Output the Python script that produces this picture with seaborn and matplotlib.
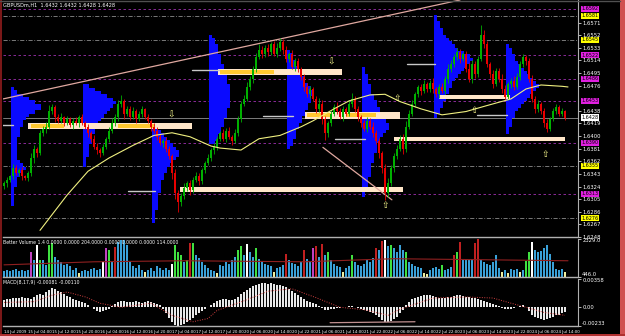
import numpy as np
import pandas as pd
import matplotlib
matplotlib.use("Agg")
import matplotlib.pyplot as plt
import matplotlib.transforms as mtrans
import seaborn as sns

# ---------------- data (prices in pips above 1.6000) ----------------
first_open = 325
close_pips = [
    329, 334, 340, 352, 344, 349, 340, 337, 344, 367,
    381, 374, 404, 411, 414, 438, 444, 429, 423, 429,
    420, 426, 417, 423, 419, 429, 420, 414, 404, 396,
    384, 379, 374, 384, 396, 408, 419, 429, 449, 453,
    434, 441, 429, 438, 426, 434, 441, 429, 423, 414,
    408, 399, 389, 393, 381, 370, 344, 314, 300, 310,
    322, 329, 319, 334, 340, 332, 349, 359, 367, 379,
    384, 396, 404, 396, 408, 399, 393, 404, 426, 449,
    456, 474, 486, 501, 519, 530, 523, 533, 527, 538,
    523, 533, 542, 530, 516, 523, 504, 513, 501, 489,
    474, 463, 471, 456, 441, 449, 426, 404, 419, 434,
    444, 438, 429, 441, 434, 449, 456, 441, 429, 419,
    411, 423, 414, 404, 393, 374, 352, 314, 329, 352,
    370, 381, 396, 381, 414, 434, 449, 463, 474, 468,
    478, 471, 480, 471, 463, 474, 468, 486, 501, 508,
    519, 527, 516, 523, 501, 486, 508, 493, 516, 553,
    538, 508, 493, 478, 498, 486, 471, 459, 478, 483,
    474, 489, 508, 519, 513, 486, 456, 441, 449, 438,
    419, 411, 426, 438, 444, 434, 438, 428,
]
high_ext = [
    3, 5, 2, 6, 4, 3, 5, 2, 4, 8,
    6, 3, 5, 4, 7, 9, 5, 3, 4, 6,
    2, 5, 3, 4, 6, 3, 5, 2, 4, 3,
    6, 5, 3, 4, 2, 5, 8, 4, 6, 9,
    3, 5, 4, 6, 3, 4, 5, 2, 4, 3,
    5, 6, 4, 3, 5, 4, 3, 6, 5, 4,
    8, 3, 5, 4, 6, 5, 3, 4, 6, 3,
    5, 4, 3, 6, 4, 5, 3, 7, 5, 4,
    6, 8, 5, 4, 6, 9, 5, 4, 6, 3,
    5, 7, 6, 4, 5, 3, 6, 4, 5, 3,
    4, 6, 5, 3, 4, 8, 5, 4, 3, 6,
    5, 7, 4, 5, 3, 6, 9, 5, 4, 3,
    5, 6, 4, 7, 5, 4, 3, 6, 8, 5,
    4, 6, 5, 7, 9, 6, 5, 4, 3, 5,
    6, 4, 5, 7, 3, 4, 6, 5, 8, 7,
    5, 6, 4, 3, 5, 9, 6, 5, 4, 14,
    7, 5, 3, 6, 4, 5, 7, 6, 4, 5,
    8, 6, 5, 4, 3, 5, 6, 4, 5, 3,
    4, 6, 3, 5, 4, 3, 4, 2,
]
low_ext = [
    4, 6, 3, 5, 2, 4, 6, 3, 5, 4,
    7, 5, 3, 4, 6, 4, 5, 8, 4, 3,
    5, 3, 4, 6, 3, 5, 4, 3, 6, 5,
    4, 6, 5, 3, 4, 5, 3, 4, 6, 5,
    8, 4, 5, 3, 6, 4, 5, 3, 4, 6,
    4, 5, 3, 6, 5, 4, 8, 9, 15, 6,
    5, 4, 7, 5, 3, 6, 4, 5, 3, 4,
    6, 5, 4, 3, 5, 4, 6, 3, 4, 5,
    4, 3, 5, 6, 4, 3, 5, 4, 6, 5,
    3, 4, 5, 6, 4, 5, 3, 6, 4, 5,
    6, 4, 5, 3, 6, 4, 8, 10, 5, 4,
    3, 5, 4, 6, 4, 3, 5, 4, 6, 5,
    4, 5, 3, 6, 5, 7, 8, 10, 5, 4,
    6, 5, 4, 8, 5, 4, 3, 5, 4, 6,
    3, 5, 4, 6, 4, 5, 3, 4, 6, 5,
    4, 5, 6, 3, 5, 4, 6, 5, 4, 3,
    5, 4, 6, 5, 3, 4, 6, 5, 4, 5,
    4, 3, 5, 4, 6, 5, 4, 6, 5, 4,
    6, 5, 4, 3, 5, 4, 3, 4,
]
ma_bar = [12, 21, 28, 35, 43, 50, 56, 62, 69, 72, 79, 85, 92, 99, 103, 110, 115, 122, 127,
          132, 139, 146, 154, 161, 169, 174, 179, 186, 188]
ma_pips = [258, 311, 347, 367, 386, 401, 405, 399, 385, 382, 379, 396, 401, 414, 423, 441, 453,
           462, 463, 452, 441, 432, 437, 446, 456, 471, 477, 475, 474]

volume = [
    760, 800, 740, 780, 820, 760, 800, 740, 780, 1680,
    1300, 2030, 1290, 1290, 1040, 2030, 2130, 1440, 1290, 1190,
    1040, 1090, 990, 790, 890, 640, 740, 790, 740, 840,
    890, 790, 840, 1190, 1880, 1780, 1190, 1930, 2180, 2280,
    2280, 2030, 1190, 990, 890, 1040, 790, 690, 790, 890,
    740, 990, 890, 790, 890, 790, 1090, 2030, 1680, 1540,
    1190, 1290, 2130, 2130, 1540, 1390, 1190, 1040, 890, 790,
    740, 640, 1040, 990, 1190, 1090, 1290, 1440, 1780, 1980,
    1540, 2080, 1690, 1440, 1880, 1340, 1190, 1090, 1040, 990,
    690, 890, 940, 1040, 1580, 1290, 1140, 1090, 990, 1190,
    1780, 1340, 1240, 1880, 1980, 1440, 2080, 1540, 1680, 1290,
    1090, 990, 940, 690, 890, 990, 1540, 1190, 1040, 990,
    1090, 1290, 1190, 1390, 1880, 1780, 2230, 2280, 1980, 2030,
    1880, 1680, 2030, 1780, 1680, 1190, 1090, 990, 940, 890,
    640, 590, 790, 890, 940, 840, 1040, 790, 840, 940,
    1540, 1680, 2180, 1340, 1290, 1290, 1340, 2130, 2330, 1290,
    1190, 1090, 1040, 1190, 1540, 890, 690, 790, 640, 840,
    790, 840, 690, 790, 1240, 1680, 2180, 1780, 1680, 1740,
    1880, 2030, 1590, 1190, 840, 790, 840, 690,
]
vol_class = ("bbbbbbbbbm" "bwgbbggbbb" "bbbbbybbbb" "bbbwmgbrbb" "bbbbbbbybb"
             "bbbbbbwggg" "bgrgbbbbbb" "bybbbbbbgg" "bwbbgbbbbb" "ybbbrbbbbb"
             "rbbmrbrbgb" "bbbybbgbbb" "bbbbrbrwbg" "bbbbgbbbbb" "yybbbbgbbb"
             "rgrbbbbrrb" "bbbbbbybyb" "bbybggwbbb" "bbbbbbby")
vol_ma_bar = [0, 30, 60, 100, 130, 160, 188]
vol_ma = [1040, 1190, 1240, 1190, 1340, 1290, 1240]

macd_hist = [
    90, 100, 100, 115, 115, 115, 128, 115, 115, 100,
    128, 154, 166, 154, 192, 218, 243, 230, 205, 192,
    166, 140, 128, 100, 90, 77, 64, 51, 26, 0,
    -26, -51, -64, -51, -38, -26, 13, 38, 64, 77,
    77, 64, 64, 64, 77, 64, 51, 64, 77, 64,
    51, 38, 26, -26, -77, -128, -179, -218, -230, -218,
    -205, -179, -154, -128, -102, -77, -51, -26, 0, 26,
    51, 77, 90, 102, 102, 90, 90, 102, 128, 166,
    192, 218, 243, 269, 282, 294, 307, 307, 294, 307,
    294, 282, 282, 269, 256, 230, 205, 179, 154, 128,
    102, 77, 64, 51, 38, 13, -13, -38, -38, -26,
    -26, -13, -13, 0, 0, 13, 13, 0, -13, -26,
    -38, -51, -64, -77, -90, -115, -154, -179, -179, -166,
    -141, -115, -77, -38, 26, 64, 102, 115, 128, 141,
    154, 154, 154, 141, 128, 115, 115, 115, 128, 128,
    141, 154, 154, 141, 128, 128, 115, 115, 102, 90,
    77, 64, 51, 38, 26, 13, -13, -26, -26, -26,
    -13, 0, 13, 26, 0, -51, -90, -115, -128, -141,
    -154, -141, -128, -115, -102, -90, -77, -64,
]
sig_bar = [0, 10, 16, 21, 27, 32, 39, 49, 56, 63, 68, 71, 80, 88, 96, 104, 112, 120, 128,
           132, 136, 143, 154, 163, 169, 174, 180, 187]
sig_val = [60, 70, 150, 190, 130, 50, 0, 50, -100, -180, -140, -40, 80, 200, 230, 120, 0, -30,
           -100, -25, 26, 115, 128, 115, 51, 0, -64, -100]

# volume-profile blocks: first bar, top price (pips), widths (bars) per 5-pip bin
profiles = [
    (3, 474, [1, 2, 4, 6, 8, 10, 10, 8, 6, 5, 4, 4, 3, 3, 3, 2, 2, 2, 2, 2, 2, 2, 3, 4, 5, 4, 3,
              2, 2, 2, 1, 1, 1, 1, 1, 1]),
    (27, 478, [2, 4, 6, 8, 10, 11, 10, 9, 8, 7, 6, 5, 5, 4, 4, 3, 3, 3, 2, 2, 2, 2, 1, 1, 1]),
    (50, 414, [2, 3, 4, 5, 6, 7, 8, 9, 9, 8, 7, 6, 5, 5, 4, 4, 3, 3, 3, 3, 2, 2, 2, 2, 2, 1, 1, 1, 1]),
    (69, 553, [1, 2, 2, 3, 3, 3, 4, 4, 4, 5, 5, 5, 6, 6, 6, 7, 7, 7, 7, 7, 7, 7, 6, 6, 6, 5, 5, 5, 4,
               4, 3, 3, 2]),
    (95, 530, [1, 2, 2, 3, 3, 4, 5, 5, 6, 6, 7, 8, 9, 9, 8, 8, 7, 7, 6, 6, 5, 5, 4, 4, 3, 3, 3, 2, 2, 1]),
    (120, 504, [1, 1, 2, 2, 2, 3, 3, 3, 4, 4, 5, 5, 6, 6, 7, 8, 8, 9, 9, 8, 7, 6, 6, 5, 5, 5, 4, 4, 4,
                3, 3, 3, 3, 2, 2, 2, 2, 1, 1]),
    (144, 583, [1, 1, 2, 2, 3, 3, 4, 5, 6, 7, 8, 10, 12, 13, 12, 11, 10, 9, 8, 7, 6, 6, 5, 5, 4, 4, 3,
                3, 2, 2, 1]),
    (168, 538, [1, 2, 2, 3, 3, 4, 5, 6, 7, 8, 9, 10, 11, 10, 9, 8, 7, 6, 5, 4, 3, 3, 2, 2, 2, 1, 1]),
]
# value-area zones: first bar, last bar, top pips, bottom pips
zones = [(8, 62.7, 420, 411), (71.3, 112.7, 501, 492), (100.3, 132, 437, 426),
         (58.7, 133, 323, 316), (145, 168.7, 462, 456), (130, 187, 398, 393)]
zone_core = [(9, 20, 420, 411), (38, 50, 420, 411), (72, 90, 501, 492),
             (101, 109, 437, 426), (114, 124, 437, 426)]
short_lines = [(-1.3, 3, 416), (41.3, 50.3, 317), (62.7, 72, 499), (86.3, 96.3, 431),
               (110.3, 120.3, 396), (134.3, 143.7, 508), (157.7, 167.7, 432)]
arrows_down = [(55.7, 431), (109, 511)]
arrows_up = [(127, 296), (156.7, 439), (180.3, 372), (131, 457)]
trend_lines = [((-0.3, 456), (152, 605)), ((106.3, 383), (129.3, 304))]
macd_trend = ((108.7, -192), (137, -180))

level_magenta = [592, 522, 486, 453, 390, 313]
level_yellow = [581, 545, 355, 276]
current_price = 428
price_ticks = [1.6571, 1.6552, 1.6533, 1.6514, 1.6495, 1.6476, 1.6457, 1.6438, 1.6419,
               1.6400, 1.6381, 1.6362, 1.6343, 1.6324, 1.6305, 1.6286, 1.6267, 1.6248]
time_labels = ["14 Jul 2009", "15 Jul 04:00", "15 Jul 12:00", "15 Jul 20:00", "16 Jul 04:00",
               "16 Jul 12:00", "16 Jul 20:00", "17 Jul 04:00", "17 Jul 12:00", "17 Jul 20:00",
               "20 Jul 06:00", "20 Jul 14:00", "20 Jul 22:00", "21 Jul 06:00", "21 Jul 14:00",
               "21 Jul 22:00", "22 Jul 06:00", "22 Jul 14:00", "22 Jul 22:00", "23 Jul 06:00",
               "23 Jul 14:00", "23 Jul 22:00", "24 Jul 06:00", "24 Jul 14:00"]
title = "GBPUSDm,H1  1.6432 1.6432 1.6428 1.6428"
vol_title = "Better Volume 1.4 0.0000 0.0000 204.0000 0.0000 0.0000 0.0000 114.0000"
macd_title = "MACD(8,17,9) -0.00081 -0.00110"

# ---------------- styling ----------------
sns.set_theme(style="dark", rc={"axes.facecolor": "black", "figure.facecolor": "black",
                                "axes.edgecolor": "#a0a0a0", "text.color": "white",
                                "xtick.color": "white", "ytick.color": "white"})
plt.rcParams["font.family"] = ["DejaVu Sans"]

W, H = 625, 336
fig = plt.figure(figsize=(W / 100, H / 100), dpi=100, facecolor="black")


def rect(x0, y0, x1, y1):
    return [x0 / W, 1 - y1 / H, (x1 - x0) / W, (y1 - y0) / H]


ax_p = fig.add_axes(rect(3, 0, 578, 237))
ax_v = fig.add_axes(rect(3, 238.5, 578, 277))
ax_m = fig.add_axes(rect(3, 278.5, 578, 326))


def P(v):
    return 1.6 + np.asarray(v, dtype=float) / 1e4


n = len(close_pips)
idx = np.arange(n)
closes = P(close_pips)
opens = np.r_[P(first_open), closes[:-1]]
highs = np.maximum(opens, closes) + np.asarray(high_ext) / 1e4
lows = np.minimum(opens, closes) - np.asarray(low_ext) / 1e4

XL = (-1 / 3, 574 / 3)
for ax in (ax_p, ax_v, ax_m):
    ax.set_facecolor("black")
    ax.set_xlim(*XL)
    for s in ax.spines.values():
        s.set_visible(False)
    ax.spines["bottom"].set_visible(True)
    ax.spines["bottom"].set_color("#b0b0b0")
    ax.spines["bottom"].set_linewidth(1.0)
    ax.spines["right"].set_visible(True)
    ax.spines["right"].set_color("#b0b0b0")
    ax.spines["right"].set_linewidth(0.8)
    ax.grid(False)
    ax.yaxis.tick_right()
    ax.tick_params(axis="y", length=2, width=0.5, pad=1, labelsize=3.8, colors="white")

# ---------- price panel ----------
ax_p.set_ylim(P(252), P(605))
bin_h = 5 / 1e4
for start, top, widths in profiles:
    ys = P(top) - bin_h * (np.arange(len(widths)) + 0.5)
    ax_p.barh(ys, widths, left=start - 0.5, height=bin_h, color="#0a0aff", linewidth=0, zorder=1)

for lv in level_magenta:
    ax_p.axhline(P(lv), color="#a030b0", lw=0.6, dashes=(3, 3), zorder=0.5)
for lv in level_yellow:
    ax_p.axhline(P(lv), color="#8c8c8c", lw=0.6, dashes=(5, 2, 1, 2), zorder=0.5)
ax_p.axhline(P(current_price), color="#909090", lw=0.6, zorder=0.6)

for x0, x1, t, b in zones:
    ax_p.fill_between([x0, x1], P(b), P(t), color="#ffe6c8", lw=0, zorder=3)
for x0, x1, t, b in zone_core:
    mid = (P(t) + P(b)) / 2
    h = (P(t) - P(b)) * 0.3
    ax_p.fill_between([x0, x1], mid - h, mid + h, color="#ffc830", lw=0, zorder=3.1)

for x0, x1, y in short_lines:
    ax_p.plot([x0, x1], [P(y), P(y)], color="#c8c8c8", lw=1.0, zorder=3)

for (x0, y0), (x1, y1) in trend_lines:
    ax_p.plot([x0, x1], [P(y0), P(y1)], color="#e0a8a0", lw=0.9, zorder=4)

up = closes >= opens
ccol = np.where(up, "#00b000", "#e80000")
ax_p.vlines(idx, lows, highs, colors=ccol, lw=0.6, zorder=5)
body = np.maximum(np.abs(closes - opens), 0.00008)
ax_p.bar(idx, body, bottom=np.minimum(opens, closes), width=0.62, color=ccol, linewidth=0, zorder=5)

ma_df = pd.DataFrame({"bar": ma_bar, "price": P(ma_pips)})
sns.lineplot(data=ma_df, x="bar", y="price", ax=ax_p, color="#f0f080", lw=0.8, zorder=6)

for x, y in arrows_down:
    ax_p.text(x, P(y), "\u21e9", color="#ffff90", fontsize=6.5, ha="center", va="center", zorder=7)
for x, y in arrows_up:
    ax_p.text(x, P(y), "\u21e7", color="#ffff90", fontsize=6.5, ha="center", va="center", zorder=7)

# right-axis ticks: keep those not hidden under a coloured level box
boxed = P(level_magenta + level_yellow + [current_price])
shown_ticks = [t for t in price_ticks if np.min(np.abs(boxed - t)) > 0.00055]
ax_p.set_yticks(shown_ticks)
ax_p.set_yticklabels([f"{t:.4f}" for t in shown_ticks])
ax_p.set_xticks([])
ax_p.set_xlabel("")
ax_p.set_ylabel("")
ax_p.text(0.0, 0.988, title, transform=ax_p.transAxes, fontsize=3.6, color="white",
          ha="left", va="top")

tr = mtrans.blended_transform_factory(ax_p.transAxes, ax_p.transData)
box_kw = dict(transform=tr, fontsize=3.5, color="black", ha="left", va="center",
              zorder=10, clip_on=False)
for lv in level_magenta:
    ax_p.text(1.006, P(lv), f"{P(lv):.4f}",
              bbox=dict(boxstyle="square,pad=0.12", fc="#e020e0", ec="none"), **box_kw)
for lv in level_yellow:
    ax_p.text(1.006, P(lv), f"{P(lv):.4f}",
              bbox=dict(boxstyle="square,pad=0.12", fc="#ffff00", ec="none"), **box_kw)
ax_p.text(1.006, P(current_price), f"{P(current_price):.4f}",
          bbox=dict(boxstyle="square,pad=0.12", fc="white", ec="none"), **box_kw)

# ---------- volume panel ----------
vmap = {"b": "#3aa0d8", "g": "#40e040", "w": "#ffffff", "m": "#c040c0", "r": "#c02020",
        "y": "#f0f0a0"}
ax_v.set_ylim(446, 2329)
ax_v.bar(idx, volume, width=0.55, color=[vmap[c] for c in vol_class], linewidth=0)
vma_df = pd.DataFrame({"bar": vol_ma_bar, "vol": vol_ma})
sns.lineplot(data=vma_df, x="bar", y="vol", ax=ax_v, color="#902020", lw=0.8)
ax_v.set_yticks([2329, 446])
ax_v.set_yticklabels(["2329.0", "446.0"])
for lab, va in zip(ax_v.get_yticklabels(), ["top", "bottom"]):
    lab.set_va(va)
ax_v.set_xticks([])
ax_v.set_xlabel("")
ax_v.set_ylabel("")
ax_v.text(0.0, 0.97, vol_title, transform=ax_v.transAxes, fontsize=3.3, color="white",
          ha="left", va="top")

# ---------- MACD panel ----------
ax_m.set_ylim(-0.00233, 0.00358)
ax_m.bar(idx, np.asarray(macd_hist) / 1e5, width=0.55, color="#e8e8e8", linewidth=0)
sig_df = pd.DataFrame({"bar": sig_bar, "sig": np.asarray(sig_val) / 1e5})
sns.lineplot(data=sig_df, x="bar", y="sig", ax=ax_m, color="#d04040", lw=0.7,
             linestyle=(0, (1, 1.5)))
(mx0, my0), (mx1, my1) = macd_trend
ax_m.plot([mx0, mx1], [my0 / 1e5, my1 / 1e5], color="#c09090", lw=0.9)
ax_m.set_yticks([0.00358, 0.0, -0.00233])
ax_m.set_yticklabels(["0.00358", "0.00", "-0.00233"])
for lab, va in zip(ax_m.get_yticklabels(), ["top", "center", "bottom"]):
    lab.set_va(va)
ax_m.set_xticks(np.arange(len(time_labels)) * 8)
ax_m.set_xticklabels(time_labels, ha="left")
ax_m.tick_params(axis="x", length=2, width=0.5, pad=1, labelsize=2.9, colors="white")
ax_m.set_xlabel("")
ax_m.set_ylabel("")
ax_m.text(0.0, 0.97, macd_title, transform=ax_m.transAxes, fontsize=3.3, color="white",
          ha="left", va="top")

# ---------- window frame ----------
frame = fig.add_axes([0, 0, 1, 1], facecolor="none")
frame.set_xlim(0, W)
frame.set_ylim(H, 0)
frame.axis("off")
frame.fill_between([0, 2], 0, H, color="#7a1818", lw=0)
frame.fill_between([620, W], 0, H, color="#d05050", lw=0)
frame.fill_between([0, W], 334, H, color="#b03030", lw=0)
frame.plot([0, 620], [0.5, 0.5], color="#505050", lw=1)

fig.savefig("out.png", dpi=100, facecolor="black")
